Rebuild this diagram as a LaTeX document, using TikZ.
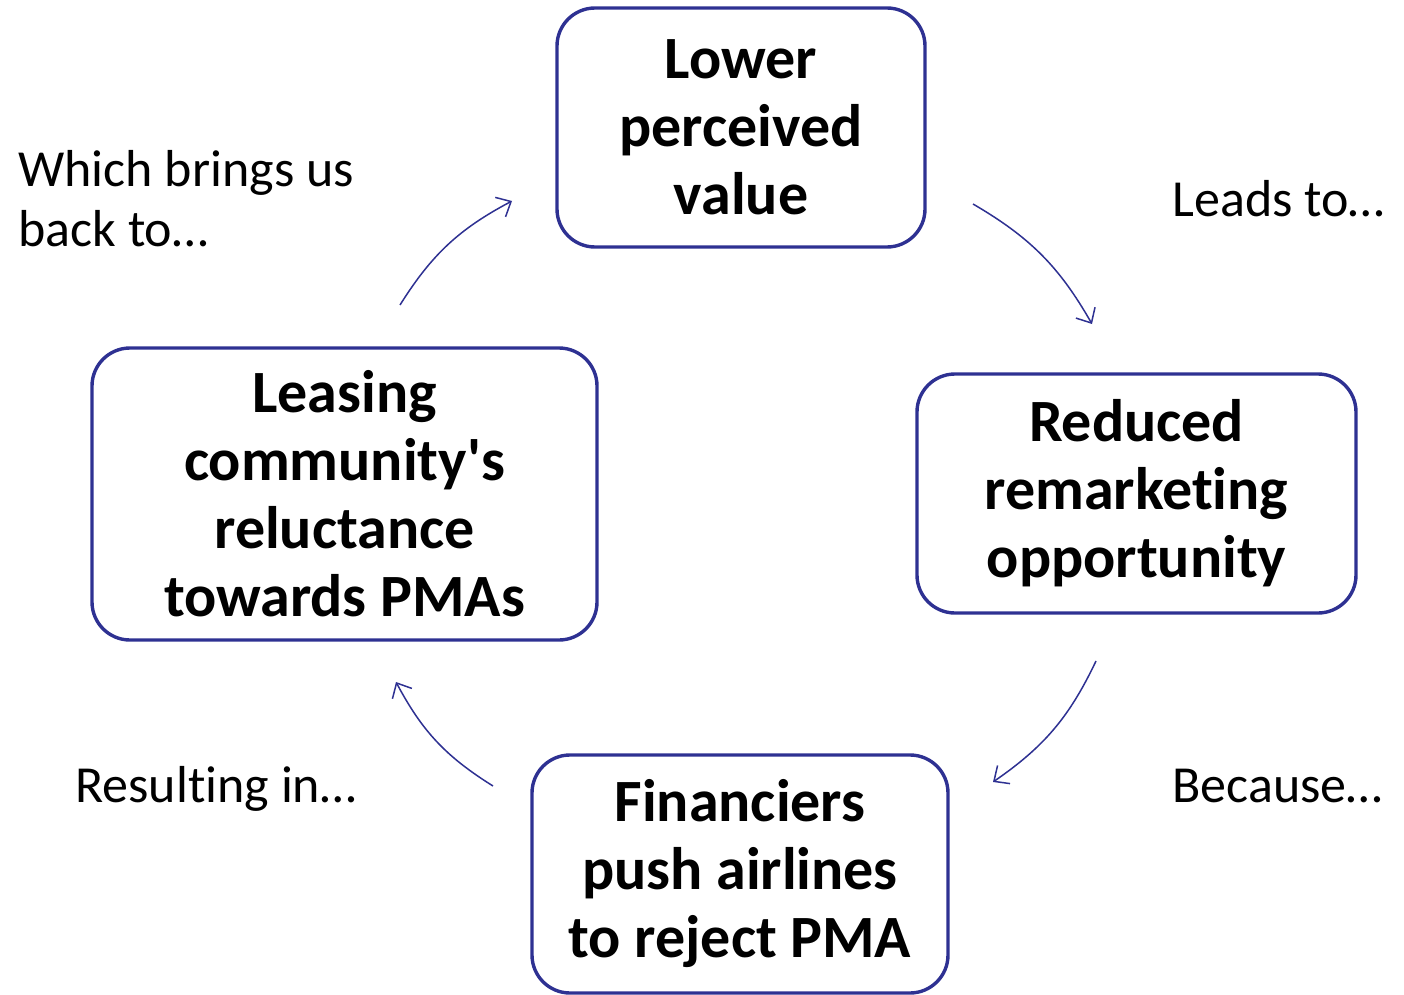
\documentclass[tikz,border=0pt]{standalone}
\usepackage{fontspec}
\setmainfont{Carlito}[Ligatures={NoCommon,NoRare,NoContextual}]
\usetikzlibrary{arrows.meta}
\definecolor{navy}{HTML}{2E3192}
\tikzset{
  box/.style={draw=navy, line width=1.7pt, rounded corners=19pt, align=center,
    font=\fontsize{30pt}{34pt}\selectfont\bfseries, inner sep=0pt},
  lbl/.style={font=\fontsize{26pt}{30pt}\selectfont, inner sep=0pt},
  flow/.style={draw=navy, line width=0.75pt, -{Straight Barb[length=6pt,width=11pt,line width=0.75pt]}, bend left=15}
}
\begin{document}
\begin{tikzpicture}[x=0.5pt,y=-0.5pt]
\useasboundingbox (0,0) rectangle (1404,995);
\node[box, minimum width=184pt, minimum height=119.5pt] (top) at (741,127.5) {Lower\\perceived\\value};
\node[box, minimum width=219.5pt, minimum height=119.5pt] (right) at (1136.5,493.5) {Reduced\\remarketing\\opportunity};
\node[box, minimum width=208pt, minimum height=119pt] (bottom) at (740,874) {Financiers\\push airlines\\to reject PMA};
\node[box, minimum width=252.5pt, minimum height=146pt] (left) at (344.5,494) {Leasing\\community\textquotesingle s\\reluctance\\towards PMAs};

\node[lbl, anchor=west, align=left] (l1) at (18,199) {Which brings us\\back to…};
\node[lbl, anchor=west] (l2) at (1172,199) {Leads to…};
\node[lbl, anchor=west] (l3) at (1172,786) {Because…};
\node[lbl, anchor=west] (l4) at (75,789) {Resulting in…};

\coordinate (a1s) at (973,204);
\coordinate (a1e) at (1092,324);
\coordinate (a2s) at (1096,661);
\coordinate (a2e) at (993,782);
\coordinate (a3s) at (493,786);
\coordinate (a3e) at (396,682);
\coordinate (a4s) at (400,305);
\coordinate (a4e) at (512,201);
\draw[flow] (a1s) to (a1e);
\draw[flow] (a2s) to (a2e);
\draw[flow] (a3s) to (a3e);
\draw[flow] (a4s) to (a4e);
\end{tikzpicture}
\end{document}
